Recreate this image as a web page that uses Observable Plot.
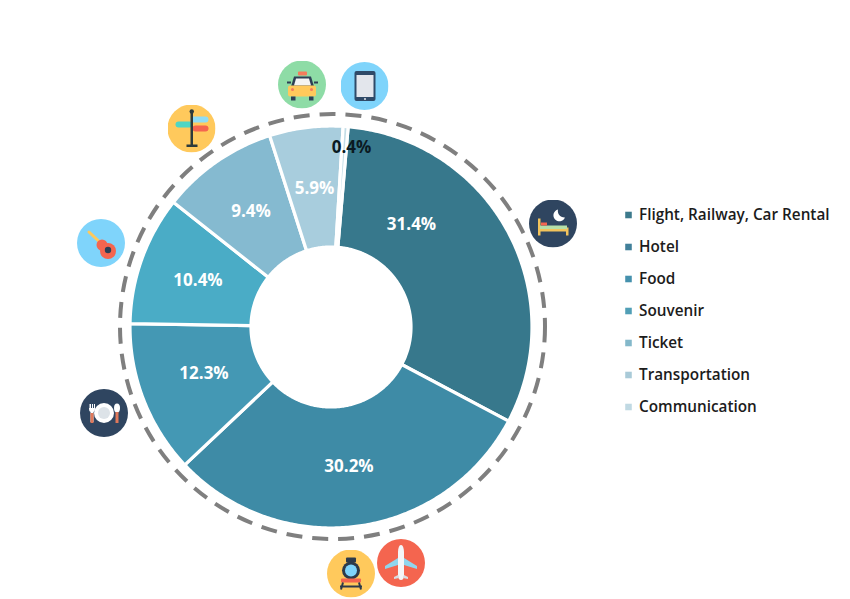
<!DOCTYPE html>
<html>
<head>
<meta charset="utf-8">
<script src="https://cdn.jsdelivr.net/npm/d3@7"></script>
<script src="https://cdn.jsdelivr.net/npm/@observablehq/plot@0.6"></script>
<style>
html,body{margin:0;padding:0;background:#fff}
svg{display:block}
</style>
</head>
<body>
<div id="chart"></div>
<script>
const categories = ["Flight, Railway, Car Rental","Hotel","Food","Souvenir","Ticket","Transportation","Communication"];
const sliceValues = [31.4,30.2,12.3,10.4,9.4,5.9,0.4];
const sliceLabels = ["31.4%","30.2%","12.3%","10.4%","9.4%","5.9%","0.4%"];
const sliceColors = ["#37788c","#3e8ba6","#4498b4","#4aacc6","#85bad0","#a8cddd","#c3dde6"];
const legendColors = ["#3d7a8c","#41809a","#4591ad","#519fb6","#84b8ca","#a9cad8","#c0d9e3"];
const labelDx = [80.5,18,-127,-133,-80,-16.5,20.5];
const labelDy = [-102,140,47,-46,-115.5,-138,-179];
const labelColors = ["#fff","#fff","#fff","#fff","#fff","#fff","#0b1a22"];

const W = 850, H = 599, cx = 330.5, cy = 326.5, R = 201, r0 = 80, ringR = 212.5;
const startDeg = 4.9;

const bg = (c, inner) => "data:image/svg+xml," + encodeURIComponent(
 `<svg xmlns="http://www.w3.org/2000/svg" viewBox="0 0 48 48"><circle cx="24" cy="24" r="24" fill="${c}"/>${inner}</svg>`);
const iconSvg = {
 taxi: bg("#8edca6",`<rect x="20" y="11" width="9" height="4" rx="1" fill="#f47c5c"/><path d="M13 26l3-10h17l3 10z" fill="#2d3f55"/><path d="M16 25l2-7h13l2 7z" fill="#f4f4f4"/><rect x="10" y="25" width="28" height="11" rx="2" fill="#ffc95c"/><rect x="9" y="21" width="4" height="2" fill="#2d3f55"/><rect x="36" y="21" width="4" height="2" fill="#2d3f55"/><rect x="13" y="36" width="4.500" height="4" fill="#2d3f55"/><rect x="31" y="36" width="4.500" height="4" fill="#2d3f55"/><circle cx="14.500" cy="29" r="1.500" fill="#f47c5c"/><circle cx="33.500" cy="29" r="1.500" fill="#f47c5c"/>`),
 tablet: bg("#7fd4fb",`<rect x="14" y="9" width="21" height="30" rx="2" fill="#2f4a68"/><rect x="16" y="13" width="17" height="22" fill="#e3e6ec"/><circle cx="24.500" cy="37" r="1" fill="#e3e6ec"/>`),
 sign: bg("#ffc95c",`<rect x="8" y="17" width="17" height="6" rx="3" fill="#4fd6c4"/><rect x="23" y="12" width="18" height="6" rx="3" fill="#8fdcf5"/><rect x="25" y="21" width="16" height="6" rx="3" fill="#f4654f"/><rect x="23" y="6" width="2.500" height="36" fill="#2d3a3a"/><circle cx="24.250" cy="7" r="2.200" fill="#2d3a3a"/><rect x="19" y="40" width="11" height="2.500" fill="#2d3a3a"/>`),
 guitar: bg("#7fd4fb",`<path d="M12 13L28 28" stroke="#ffc95c" stroke-width="3" stroke-linecap="round"/><circle cx="25" cy="26" r="5.500" fill="#f4654f"/><circle cx="31" cy="32" r="8" fill="#f4654f"/><circle cx="31" cy="31" r="3.200" fill="#2d3f55"/>`),
 plate: bg("#2f4560",`<circle cx="24" cy="24" r="10" fill="#fff"/><circle cx="24" cy="24" r="6" fill="#dde3e8"/><path d="M9 15v5q0 2.500 1.500 3v10h3V23q1.500-.5 1.500-3v-5h-1v4h-1v-4h-1v4h-1v-4h-1v4h-.5v-4z" fill="#fff"/><rect x="10.500" y="24" width="3" height="10" fill="#e0785a"/><ellipse cx="37" cy="19" rx="3" ry="4.500" fill="#fff"/><rect x="35.500" y="23" width="3" height="11" fill="#e0785a"/>`),
 train: bg("#ffc95c",`<rect x="19" y="8" width="10" height="5" rx="1" fill="#2d3a4a"/><circle cx="24" cy="21" r="9" fill="#2d3a4a"/><circle cx="24" cy="21" r="6" fill="#7fd4fb"/><rect x="14" y="29" width="20" height="4" rx="1" fill="#f4654f"/><path d="M16 33l-2 7M32 33l2 7M13 37h22" stroke="#2d3a4a" stroke-width="2" fill="none"/>`),
 plane: bg("#f4654f",`<path d="M24 6c2.500 0 3 5 3 8v22c0 3-1 5-3 5s-3-2-3-5V14c0-3 .5-8 3-8z" fill="#f4f6f8"/><path d="M21 19L8 27v3l13-4zM27 19l13 8v3l-13-4z" fill="#8fd6ee"/><path d="M21 36l-4 2v2l5-1zM27 36l4 2v2l-5-1z" fill="#d7dde2"/>`),
 bed: bg("#2f4560",`<path d="M29 10a6 6 0 1 0 7 8a6.500 6.500 0 0 1-7-8z" fill="#fff"/><rect x="9" y="19" width="2.500" height="17" fill="#f2c35c"/><rect x="37" y="28" width="2.500" height="8" fill="#f2c35c"/><rect x="11" y="26" width="27" height="3.500" fill="#b6dfa8"/><rect x="11" y="29.500" width="27" height="2.500" fill="#f2c35c"/><rect x="12" y="23" width="6" height="3" fill="#f4654f"/>`)
};
const iconNames = ["taxi","tablet","sign","guitar","plate","train","plane","bed"];
const iconX = [301.5,364,191,100.5,103.5,350.5,400.5,552.5];
const iconY = [84,85.5,128,242.5,412.5,573,562.5,223];

const pieArcs = d3.pie().sort(null).value(d => d)
  .startAngle(startDeg * Math.PI / 180)
  .endAngle((startDeg + 360) * Math.PI / 180)(sliceValues);

const polyPts = pieArcs.flatMap((a, i) => {
  const n = Math.max(2, Math.ceil((a.endAngle - a.startAngle) / 0.01));
  const ts = d3.range(n + 1).map(k => a.startAngle + (a.endAngle - a.startAngle) * k / n);
  const p = (t, rad) => ({ i, x: cx + rad * Math.sin(t), y: cy - rad * Math.cos(t) });
  return [...ts.map(t => p(t, R)), ...ts.slice().reverse().map(t => p(t, r0))];
});

const labelRows = sliceLabels.map((t, i) => ({ t, c: labelColors[i], x: cx + labelDx[i], y: cy + labelDy[i] }));
const legendRows = categories.map((t, i) => ({ t, c: legendColors[i], x: 628, y: 214.5 + i * 32 }));
const iconRows = iconNames.map((n, i) => ({ src: iconSvg[n], x: iconX[i], y: iconY[i] }));
const font = "'Open Sans', 'Noto Sans', sans-serif";

const plot = Plot.plot({
  width: W, height: H, margin: 0,
  x: { domain: [0, W], range: [0, W], axis: null },
  y: { domain: [0, H], range: [0, H], axis: null },
  style: { background: "#fff", fontFamily: font },
  marks: [
    Plot.dot([{ x: cx + 1.5, y: cy - 0.5 }], { x: "x", y: "y", r: ringR, fill: "none", stroke: "#7f7f7f", strokeWidth: 4, strokeDasharray: "16,10" }),
    Plot.line(polyPts, { x: "x", y: "y", z: "i", curve: "linear-closed", fill: d => sliceColors[d.i], stroke: "#fff", strokeWidth: 3.2 }),
    Plot.text(labelRows, { x: "x", y: "y", text: "t", fill: "c", fontSize: 17, fontWeight: 700 }),
    Plot.dot(legendRows, { x: "x", y: "y", symbol: "square", r: 3.7, fill: "c" }),
    Plot.text(legendRows, { x: d => d.x + 10.5, y: "y", text: "t", fill: "#1c1c1c", textAnchor: "start", fontSize: 15.3, fontWeight: 600 }),
    Plot.image(iconRows, { x: "x", y: "y", src: "src", width: 48, height: 48 })
  ]
});
document.getElementById("chart").append(plot);
</script>
</body>
</html>
